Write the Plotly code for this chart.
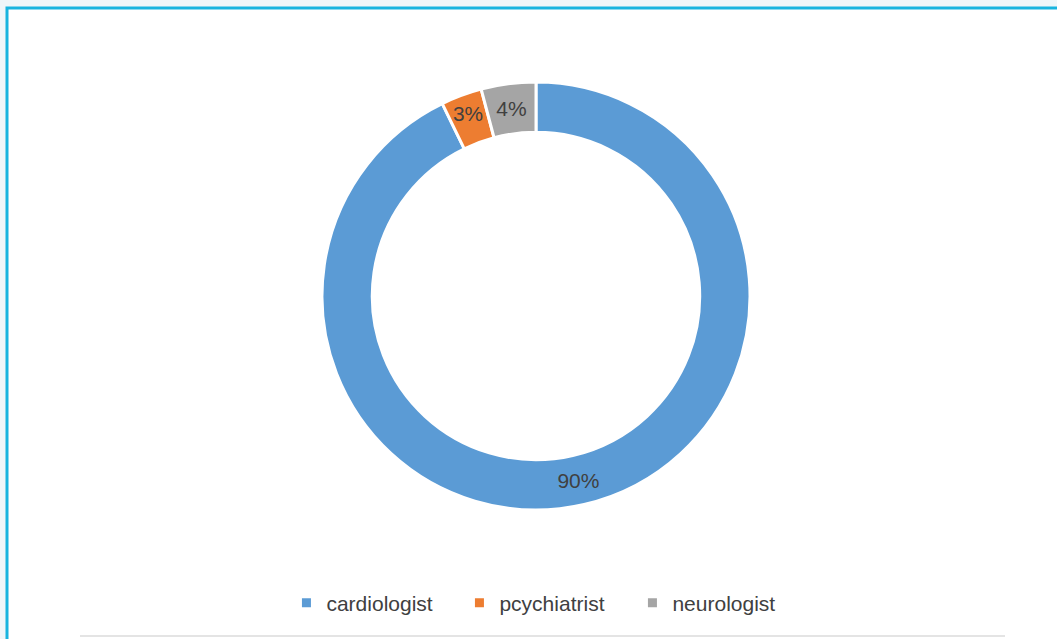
import plotly.graph_objects as go

labels = ["cardiologist", "pcychiatrist", "neurologist"]
values = [90, 3, 4]
colors = ["#5b9bd5", "#ed7d31", "#a5a5a5"]

W, H = 1057, 639
cx, cy, r = 536, 296, 214

fig = go.Figure(go.Pie(
    labels=labels,
    values=values,
    hole=0.765,
    sort=False,
    direction="clockwise",
    rotation=0,
    marker=dict(colors=colors, line=dict(color="white", width=3)),
    texttemplate="%{value}%",
    textposition="inside",
    insidetextorientation="horizontal",
    textfont=dict(family="Liberation Sans Narrow, Liberation Sans, Arial", size=21, color="#404040"),
    domain=dict(x=[(cx - r) / W, (cx + r) / W], y=[1 - (cy + r) / H, 1 - (cy - r) / H]),
    hoverinfo="label+percent",
))

fig.update_layout(
    width=W, height=H,
    margin=dict(l=0, r=0, t=0, b=0),
    paper_bgcolor="#eef6f9",
    showlegend=True,
    legend=dict(
        orientation="h", x=0.5165, xanchor="center", y=1 - 603 / H, yanchor="middle",
        font=dict(family="Liberation Sans, Arial", size=21, color="#404040"),
        bgcolor="rgba(0,0,0,0)",
        itemwidth=30, traceorder="normal",
        entrywidth=128, entrywidthmode="pixels",
    ),
    shapes=[
        dict(type="rect", xref="paper", yref="paper", x0=7 / W, x1=1.01, y0=-0.01, y1=1 - 8 / H,
             line=dict(color="#17b4df", width=3), fillcolor="white", layer="below"),
        dict(type="line", xref="paper", yref="paper", x0=80 / W, x1=1005 / W, y0=1 - 636 / H, y1=1 - 636 / H,
             line=dict(color="#e4e4e4", width=2)),
    ],
)

fig.write_html("out.html", config={"displayModeBar": False},
               post_script="document.body.style.margin='0';document.body.style.overflow='hidden';")
